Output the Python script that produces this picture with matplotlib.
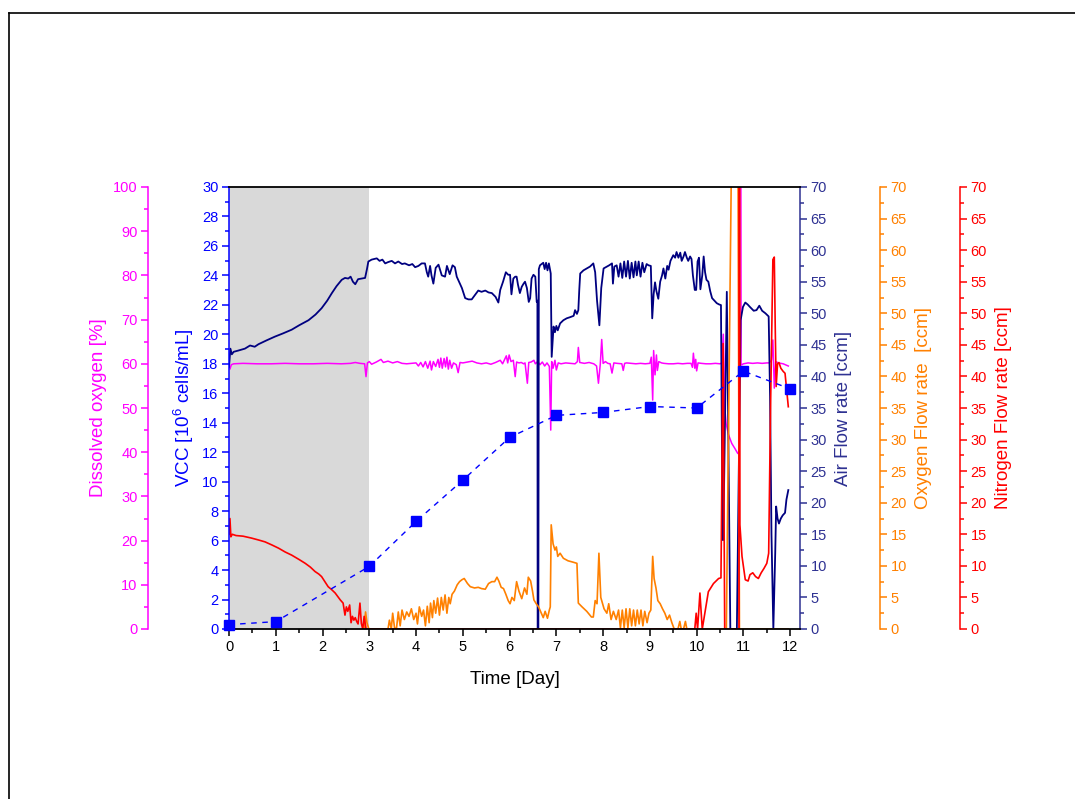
import numpy as np
import matplotlib
matplotlib.use("Agg")
import matplotlib.pyplot as plt
from matplotlib.ticker import MultipleLocator
from matplotlib.lines import Line2D

plt.rcParams["font.family"] = ["Liberation Sans", "DejaVu Sans"]
plt.rcParams["mathtext.fontset"] = "custom"
plt.rcParams["mathtext.rm"] = "Liberation Sans"

# ---------------- data ----------------
# viable cell count, 10^6 cells/mL (daily samples)
vcc_day = [0, 1, 3, 4, 5, 6, 7, 8, 9, 10, 11, 12]
vcc_val = [0.3, 0.5, 4.25, 7.3, 10.1, 13.0, 14.5, 14.7, 15.1, 15.0, 17.5, 16.3]

# air flow rate, ccm  (day, value)
air_flow = [
    (0.00, 41.5), (0.03, 44.4), (0.06, 43.5), (0.10, 43.9), (0.20, 44.1), (0.34, 44.4),
    (0.45, 44.9), (0.55, 44.7), (0.63, 45.1), (0.80, 45.7), (0.98, 46.3), (1.15, 46.8),
    (1.34, 47.4), (1.50, 48.1), (1.70, 48.9), (1.85, 49.8), (1.98, 50.8), (2.10, 52.0),
    (2.20, 53.2), (2.30, 54.3), (2.41, 55.3), (2.48, 55.6), (2.55, 55.5), (2.60, 55.8),
    (2.65, 55.0), (2.70, 54.6), (2.76, 55.4), (2.84, 55.5), (2.91, 55.6), (2.95, 57.0),
    (2.98, 58.2), (3.05, 58.5), (3.16, 58.7), (3.22, 58.3), (3.28, 58.5), (3.34, 57.9),
    (3.40, 58.1), (3.48, 58.3), (3.55, 57.9), (3.62, 58.2), (3.70, 57.8), (3.76, 57.9),
    (3.85, 57.6), (3.92, 57.8), (3.98, 57.3), (4.05, 57.5), (4.12, 57.9), (4.19, 57.9),
    (4.23, 56.5), (4.26, 55.8), (4.30, 57.5), (4.33, 56.0), (4.37, 54.7), (4.42, 57.2),
    (4.48, 57.7), (4.55, 56.0), (4.62, 55.8), (4.66, 57.5), (4.72, 56.2), (4.78, 57.6),
    (4.83, 57.3), (4.87, 55.8), (4.90, 55.3), (4.98, 54.0), (5.05, 52.4), (5.12, 52.2),
    (5.19, 52.2), (5.26, 52.9), (5.33, 53.6), (5.40, 53.4), (5.48, 53.6), (5.55, 53.3),
    (5.62, 53.2), (5.70, 52.6), (5.76, 51.7), (5.80, 53.7), (5.86, 55.0), (5.92, 56.5),
    (5.97, 56.1), (6.01, 56.1), (6.04, 53.0), (6.08, 55.5), (6.12, 55.8), (6.15, 55.8),
    (6.18, 54.5), (6.22, 53.2), (6.26, 54.2), (6.30, 54.7), (6.33, 55.0), (6.37, 54.0),
    (6.41, 51.8), (6.44, 52.4), (6.47, 55.5), (6.51, 56.1), (6.55, 55.8), (6.58, 51.8),
    (6.595, 52.0), (6.600, 0.0), (6.615, 0.0), (6.625, 57.0), (6.65, 57.6), (6.72, 58.0),
    (6.75, 57.0), (6.78, 58.0), (6.81, 56.8), (6.84, 57.9), (6.88, 56.3), (6.90, 43.1),
    (6.94, 47.9), (6.97, 47.0), (7.00, 48.0), (7.03, 47.3), (7.08, 48.4), (7.15, 48.9),
    (7.22, 49.2), (7.30, 49.4), (7.37, 49.6), (7.40, 50.5), (7.44, 49.9), (7.47, 50.5),
    (7.49, 53.7), (7.51, 56.3), (7.58, 56.8), (7.65, 57.1), (7.72, 57.4), (7.79, 57.9),
    (7.83, 56.5), (7.87, 52.0), (7.92, 48.1), (7.96, 54.0), (8.01, 57.1), (8.08, 57.4),
    (8.13, 57.6), (8.19, 57.9), (8.21, 54.7), (8.24, 57.4), (8.29, 57.6), (8.33, 55.8),
    (8.37, 57.9), (8.41, 55.6), (8.45, 58.2), (8.49, 55.8), (8.53, 58.3), (8.57, 55.5),
    (8.61, 58.0), (8.65, 55.7), (8.69, 58.2), (8.72, 56.0), (8.76, 58.2), (8.80, 55.8),
    (8.84, 58.0), (8.88, 56.5), (8.93, 57.8), (8.97, 57.6), (9.02, 57.5), (9.05, 49.2),
    (9.08, 53.0), (9.11, 54.9), (9.14, 53.5), (9.18, 52.3), (9.22, 55.0), (9.26, 56.0),
    (9.29, 57.1), (9.33, 55.5), (9.37, 57.5), (9.40, 56.9), (9.44, 58.3), (9.50, 59.2),
    (9.54, 58.8), (9.57, 59.7), (9.61, 58.8), (9.65, 59.6), (9.68, 58.3), (9.72, 59.0),
    (9.75, 59.7), (9.79, 58.8), (9.82, 58.3), (9.86, 59.0), (9.89, 58.6), (9.92, 56.0),
    (9.96, 53.7), (9.99, 53.7), (10.02, 58.2), (10.05, 58.8), (10.08, 53.8), (10.12, 56.0),
    (10.15, 59.0), (10.18, 56.5), (10.21, 55.3), (10.25, 55.0), (10.29, 53.5), (10.33, 52.4),
    (10.38, 52.0), (10.43, 51.6), (10.48, 51.4), (10.52, 51.3), (10.555, 14.1), (10.57, 14.1),
    (10.645, 53.4), (10.72, 0.0), (10.86, 0.0), (10.91, 30.0), (10.94, 48.9), (10.99, 51.0),
    (11.04, 51.7), (11.09, 51.4), (11.14, 51.0), (11.22, 50.4), (11.28, 50.5), (11.34, 51.2),
    (11.40, 50.4), (11.47, 50.0), (11.54, 49.5), (11.57, 36.8), (11.60, 15.0), (11.64, 0.0),
    (11.68, 12.0), (11.70, 19.4), (11.73, 17.5), (11.76, 16.7), (11.80, 17.5), (11.84, 18.0),
    (11.89, 18.4), (11.92, 20.5), (11.96, 22.0),
]

# dissolved oxygen, %  (day, value)
dissolved_o2 = [
    (0.00, 59.5), (0.02, 58.8), (0.05, 59.8), (0.10, 60.0), (0.30, 60.1), (0.60, 60.0),
    (0.90, 60.0), (1.20, 60.1), (1.50, 60.0), (1.80, 60.0), (2.10, 60.1), (2.40, 60.0),
    (2.60, 60.1), (2.70, 60.3), (2.80, 60.1), (2.90, 60.0), (2.93, 57.1), (2.96, 60.2),
    (3.00, 60.5), (3.05, 59.9), (3.15, 60.4), (3.25, 61.0), (3.30, 60.3), (3.40, 60.6),
    (3.50, 60.2), (3.60, 60.5), (3.70, 60.1), (3.80, 60.0), (3.90, 60.1), (4.00, 60.2),
    (4.05, 59.5), (4.10, 60.3), (4.15, 59.3), (4.20, 60.5), (4.25, 59.0), (4.30, 60.6),
    (4.33, 58.6), (4.37, 60.5), (4.42, 59.4), (4.47, 61.0), (4.50, 59.2), (4.53, 61.3),
    (4.56, 59.0), (4.60, 61.2), (4.63, 59.3), (4.66, 61.5), (4.69, 58.8), (4.72, 60.8),
    (4.76, 59.0), (4.80, 60.2), (4.86, 59.8), (4.90, 58.0), (4.94, 60.3), (5.00, 60.2),
    (5.10, 60.4), (5.20, 60.6), (5.30, 60.2), (5.40, 60.0), (5.50, 60.2), (5.60, 59.9),
    (5.70, 60.3), (5.80, 60.8), (5.85, 60.0), (5.93, 61.8), (5.96, 60.2), (5.99, 62.0),
    (6.03, 60.5), (6.08, 60.8), (6.12, 57.1), (6.15, 60.4), (6.20, 60.2), (6.25, 60.3),
    (6.30, 60.0), (6.33, 60.2), (6.38, 55.6), (6.41, 60.3), (6.46, 60.4), (6.52, 60.8),
    (6.55, 60.0), (6.60, 60.5), (6.65, 59.8), (6.70, 60.4), (6.75, 59.5), (6.80, 60.2),
    (6.85, 59.4), (6.88, 45.0), (6.90, 60.5), (6.93, 59.0), (6.97, 60.8), (7.00, 58.6),
    (7.04, 60.2), (7.10, 60.0), (7.20, 60.2), (7.30, 60.1), (7.40, 60.0), (7.45, 60.5),
    (7.47, 63.7), (7.50, 60.3), (7.60, 60.1), (7.70, 60.3), (7.80, 60.0), (7.86, 59.5),
    (7.90, 55.6), (7.94, 60.0), (7.97, 65.5), (8.00, 60.1), (8.05, 60.5), (8.10, 60.1),
    (8.15, 60.0), (8.19, 57.9), (8.23, 60.2), (8.30, 60.1), (8.40, 60.0), (8.43, 58.5),
    (8.46, 60.1), (8.50, 60.2), (8.60, 60.1), (8.70, 60.0), (8.80, 60.1), (8.90, 60.0),
    (9.00, 60.1), (9.03, 61.5), (9.06, 51.8), (9.08, 63.0), (9.11, 57.5), (9.14, 62.0),
    (9.16, 58.5), (9.19, 60.5), (9.25, 60.2), (9.30, 60.1), (9.40, 60.0), (9.50, 60.0),
    (9.60, 60.1), (9.70, 60.0), (9.80, 60.1), (9.88, 60.1), (9.91, 59.2), (9.93, 62.4),
    (9.96, 59.0), (9.98, 61.0), (10.00, 58.4), (10.03, 60.2), (10.10, 60.1), (10.20, 60.0),
    (10.30, 60.0), (10.40, 60.1), (10.50, 60.0), (10.54, 60.2), (10.57, 66.7), (10.60, 50.3),
    (10.63, 46.5), (10.68, 44.0), (10.75, 42.0), (10.82, 40.8), (10.88, 39.7), (10.90, 40.0),
    (10.908, 300.0), (10.928, 300.0), (10.95, 59.7), (11.00, 60.0), (11.10, 60.2),
    (11.20, 60.1), (11.30, 60.2), (11.40, 60.1), (11.50, 60.2), (11.55, 60.2), (11.60, 60.8),
    (11.63, 65.4), (11.66, 54.5), (11.69, 60.5), (11.75, 60.2), (11.85, 60.0), (11.96, 59.5),
]

# oxygen flow rate, ccm  (day, value)
oxygen_flow = [
    (2.89, 0.0), (2.92, 2.7), (2.95, 1.0), (2.99, 0.0), (3.40, 0.0), (3.43, 1.4),
    (3.47, 0.0), (3.50, 2.5), (3.54, 0.2), (3.58, 0.0), (3.62, 2.7), (3.66, 0.5),
    (3.70, 3.0), (3.75, 1.5), (3.80, 2.7), (3.85, 2.0), (3.90, 3.2), (3.95, 1.5),
    (4.00, 2.5), (4.03, 0.8), (4.07, 3.5), (4.12, 2.0), (4.16, 3.0), (4.20, 0.5),
    (4.24, 3.6), (4.28, 1.0), (4.31, 4.1), (4.35, 1.8), (4.38, 4.5), (4.42, 2.5),
    (4.46, 4.9), (4.50, 2.2), (4.54, 5.0), (4.58, 3.0), (4.62, 5.4), (4.66, 2.5),
    (4.70, 5.0), (4.73, 4.0), (4.77, 5.5), (4.82, 6.0), (4.88, 7.0), (4.93, 7.5),
    (4.98, 7.8), (5.03, 8.0), (5.10, 7.2), (5.16, 6.7), (5.25, 6.5), (5.33, 6.6),
    (5.40, 6.4), (5.48, 6.3), (5.55, 7.2), (5.62, 7.5), (5.68, 7.5), (5.73, 8.2),
    (5.77, 7.6), (5.82, 6.6), (5.87, 6.4), (5.92, 5.5), (5.97, 4.5), (6.01, 4.0),
    (6.05, 5.0), (6.10, 4.5), (6.15, 7.5), (6.20, 6.0), (6.26, 4.8), (6.32, 6.5),
    (6.37, 5.5), (6.40, 8.2), (6.45, 7.6), (6.49, 6.0), (6.52, 4.6), (6.57, 4.0),
    (6.62, 3.5), (6.68, 2.5), (6.72, 1.8), (6.76, 2.8), (6.81, 1.7), (6.85, 3.0),
    (6.87, 3.5), (6.89, 16.5), (6.93, 13.5), (6.97, 12.5), (7.00, 13.0), (7.03, 11.5),
    (7.08, 12.0), (7.15, 11.2), (7.25, 10.8), (7.35, 10.6), (7.44, 10.4), (7.47, 4.1),
    (7.55, 3.5), (7.65, 2.8), (7.75, 1.9), (7.79, 1.9), (7.83, 4.5), (7.87, 4.0),
    (7.91, 12.0), (7.95, 5.0), (8.02, 3.2), (8.08, 2.5), (8.12, 4.0), (8.17, 1.5),
    (8.22, 2.8), (8.28, 1.5), (8.33, 3.0), (8.37, 0.2), (8.41, 3.0), (8.45, 0.2),
    (8.49, 3.2), (8.53, 0.2), (8.57, 3.2), (8.61, 0.5), (8.65, 3.0), (8.69, 0.5),
    (8.73, 3.0), (8.77, 0.8), (8.81, 3.0), (8.85, 0.5), (8.89, 2.8), (8.94, 1.0),
    (8.98, 2.5), (9.02, 3.0), (9.06, 11.5), (9.09, 8.0), (9.13, 6.5), (9.17, 4.5),
    (9.22, 4.0), (9.27, 3.2), (9.32, 2.5), (9.37, 1.5), (9.42, 2.2), (9.47, 1.0),
    (9.52, 0.0), (9.60, 0.0), (9.64, 1.2), (9.67, 0.0), (9.72, 0.0), (9.76, 1.2),
    (9.79, 0.0), (10.635, 0.0), (10.76, 85.0), (10.88, 85.0), (10.915, 0.0), (11.96, 0.0),
]

# nitrogen flow rate, ccm  (day, value)
nitrogen_flow = [
    (0.00, 15.0), (0.02, 17.5), (0.04, 14.6), (0.07, 15.0), (0.15, 14.8), (0.30, 14.7),
    (0.48, 14.4), (0.63, 14.1), (0.77, 13.8), (0.92, 13.3), (1.06, 12.8), (1.20, 12.2),
    (1.34, 11.7), (1.50, 11.0), (1.63, 10.4), (1.74, 9.8), (1.84, 9.1), (1.92, 8.7),
    (1.98, 8.3), (2.05, 7.5), (2.12, 6.7), (2.20, 6.2), (2.27, 5.7), (2.33, 5.1),
    (2.38, 4.6), (2.44, 4.1), (2.48, 2.2), (2.51, 3.5), (2.54, 2.8), (2.58, 3.8),
    (2.61, 1.0), (2.64, 2.0), (2.67, 1.4), (2.70, 1.8), (2.73, 1.2), (2.76, 0.8),
    (2.80, 4.1), (2.83, 0.9), (2.86, 0.0), (2.89, 2.0), (2.93, 0.0), (9.96, 0.0),
    (9.99, 2.5), (10.02, 0.0), (10.07, 5.7), (10.12, 0.0), (10.25, 5.9), (10.36, 7.2),
    (10.47, 8.0), (10.52, 8.1), (10.565, 45.2), (10.60, 0.0), (10.905, 0.0),
    (10.912, 200.0), (10.925, 16.5), (10.97, 11.5), (11.04, 7.8),
    (11.10, 7.6), (11.14, 8.6), (11.20, 8.9), (11.26, 8.3), (11.32, 8.0), (11.38, 8.9),
    (11.44, 9.6), (11.50, 10.4), (11.54, 12.0), (11.58, 35.0), (11.63, 58.5),
    (11.66, 58.9), (11.68, 48.0), (11.70, 38.4), (11.73, 42.0), (11.76, 42.2),
    (11.80, 41.3), (11.85, 40.8), (11.89, 40.5), (11.96, 35.2),
]

x_ticks = list(range(0, 13))

# ---------------- styling ----------------
C_VCC = "#0000ff"
C_AIR = "#000080"
C_AIR_AX = "#2e3192"
C_DO = "#ff00ff"
C_O2 = "#ff8000"
C_N2 = "#ff0000"
C_SHADE = "#d9d9d9"

fig = plt.figure(figsize=(10.75, 7.99), dpi=100)
ax = fig.add_axes([229 / 1075, 1 - 629 / 799, 571 / 1075, 442 / 799])
ax_do = ax.twinx()
ax_air = ax.twinx()
ax_o2 = ax.twinx()
ax_n2 = ax.twinx()

# host axis drawn last so the VCC markers sit on top of the sensor traces
ax.set_zorder(5)
ax.patch.set_visible(False)


def style_y(a, side, color, pos, top, major, minor, label, label_x):
    for s in a.spines.values():
        s.set_visible(False)
    sp = a.spines[side]
    sp.set_visible(True)
    sp.set_color(color)
    sp.set_linewidth(1.1)
    sp.set_position(("axes", pos))
    a.yaxis.set_ticks_position(side)
    a.yaxis.set_label_position(side)
    a.set_ylim(0, top)
    a.yaxis.set_major_locator(MultipleLocator(major))
    a.yaxis.set_minor_locator(MultipleLocator(minor))
    a.tick_params(axis="y", which="major", direction="out", length=5, width=1.1,
                  colors=color, labelsize=10.5, pad=2.5)
    a.tick_params(axis="y", which="minor", direction="out", length=3, width=1.1,
                  colors=color)
    a.set_ylabel(label, color=color, fontsize=13.5)
    a.yaxis.set_label_coords(label_x, 0.5)


style_y(ax_do, "left", C_DO, -0.1419, 100, 10, 5, "Dissolved oxygen [%]", -0.213)
style_y(ax_air, "right", C_AIR_AX, 1.0, 70, 5, 2.5, "Air Flow rate [ccm]", 1.062)
style_y(ax_o2, "right", C_O2, 1.1401, 70, 5, 2.5, "Oxygen Flow rate  [ccm]", 1.201)
style_y(ax_n2, "right", C_N2, 1.2802, 70, 5, 2.5, "Nitrogen Flow rate [ccm]", 1.341)

# host axis: VCC on the left, time on the bottom
ax.set_xlim(0, 12.21)
ax.set_ylim(0, 30)
ax.spines["right"].set_visible(False)
ax.spines["left"].set_color(C_VCC)
ax.spines["left"].set_linewidth(1.1)
for s in ("top", "bottom"):
    ax.spines[s].set_color("black")
    ax.spines[s].set_linewidth(1.3)
ax.yaxis.set_ticks_position("left")
ax.yaxis.set_label_position("left")
ax.yaxis.set_major_locator(MultipleLocator(2))
ax.yaxis.set_minor_locator(MultipleLocator(1))
ax.tick_params(axis="y", which="major", direction="out", length=5, width=1.1,
               colors=C_VCC, labelsize=10.5, pad=2.5)
ax.tick_params(axis="y", which="minor", direction="out", length=3, width=1.1,
               colors=C_VCC)
ax.set_ylabel(r"VCC [10$^{\mathregular{6}}$ cells/mL]", color=C_VCC, fontsize=13.5)
ax.yaxis.set_label_coords(-0.057, 0.5)

ax.set_xticks(x_ticks)
ax.xaxis.set_minor_locator(MultipleLocator(0.5))
ax.tick_params(axis="x", which="major", direction="out", length=5, width=1.1,
               colors="black", labelsize=10.5, pad=3, top=False)
ax.tick_params(axis="x", which="minor", direction="out", length=3, width=1.1,
               colors="black", top=False)
ax.set_xlabel("Time [Day]", fontsize=13.5, labelpad=12)

# shaded batch phase
ax_do.axvspan(0, 3, color=C_SHADE, lw=0, zorder=0)

# sensor traces
d, v = np.array(dissolved_o2).T
ax_do.plot(d, v, color=C_DO, lw=1.1, zorder=2)
d, v = np.array(air_flow).T
ax_air.plot(d, v, color=C_AIR, lw=1.3, zorder=2)
d, v = np.array(oxygen_flow).T
ax_o2.plot(d, v, color=C_O2, lw=1.2, zorder=2)
d, v = np.array(nitrogen_flow).T
ax_n2.plot(d, v, color=C_N2, lw=1.2, zorder=2)

# viable cell count
ax.plot(vcc_day, vcc_val, color=C_VCC, lw=1.0, ls=(0, (4, 4)), zorder=3)
ax.plot(vcc_day, vcc_val, ls="none", marker="s", ms=6.5, mfc=C_VCC, mec=C_VCC,
        zorder=4, clip_on=False)

# page frame
fig.add_artist(Line2D([9 / 1075, 1], [1 - 13 / 799, 1 - 13 / 799],
                      transform=fig.transFigure, color="black", lw=1.2))
fig.add_artist(Line2D([9 / 1075, 9 / 1075], [0, 1 - 13 / 799],
                      transform=fig.transFigure, color="black", lw=1.2))

fig.savefig("out.png", dpi=100, facecolor="white")
